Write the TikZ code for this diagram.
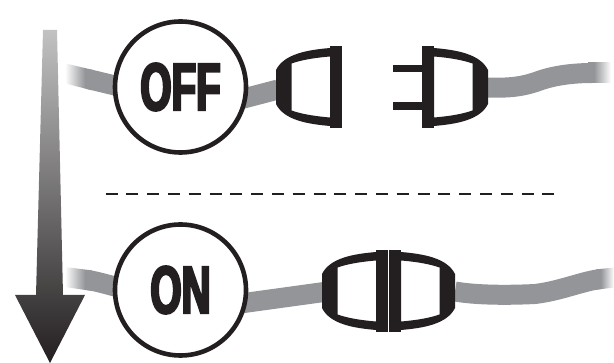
\documentclass[tikz,border=0pt]{standalone}
\usepackage{fontspec}
\newfontfamily\lab[FakeStretch=0.6,FakeBold=3.5]{Liberation Sans}
\usetikzlibrary{backgrounds}
\definecolor{ink}{HTML}{231F20}
\definecolor{cordgray}{HTML}{939598}
\pgfdeclarehorizontalshading{fadein}{100bp}{color(0bp)=(white); color(25bp)=(white); color(62bp)=(cordgray); color(100bp)=(cordgray)}
\pgfdeclarehorizontalshading{fadeout}{100bp}{color(0bp)=(cordgray); color(38bp)=(cordgray); color(75bp)=(white); color(100bp)=(white)}
\tikzset{
  x=1pt,y=-1pt,
  cord/.style={draw=cordgray,line width=20pt,line cap=butt},
  badge/.style={circle,draw=ink,line width=4.6pt,fill=white,minimum size=131pt,inner sep=0pt,text=ink,font=\lab\bfseries\fontsize{67}{67}\selectfont},
  sep/.style={draw=ink,line width=1.4pt,dash pattern=on 12pt off 8.8pt},
  halfplug/.pic={
    \fill[ink,even odd rule]
      (12,-39) .. controls (35,-37) and (58,-33) .. (66,-17) -- (66,17)
      .. controls (58,33) and (35,37) .. (12,39) -- cycle
      (12,-30.5) .. controls (30,-29) and (42,-26.5) .. (50.5,-23.5) -- (50.5,23.5)
      .. controls (42,26.5) and (30,29) .. (12,30.5) -- cycle;
    \fill[ink] (0,-41) rectangle (12,41);
  },
}
\begin{document}
\begin{tikzpicture}
\useasboundingbox (0,0) rectangle (614,363);
% badges
\node[badge] (off) at (180.5,87) {OFF};
\node[badge] (on) at (180.5,290) {ON};
% plugs
\coordinate (offA) at (342,87);
\coordinate (offB) at (422,87);
\coordinate (onA) at (388,291);
\coordinate (onB) at (389,291);
\pic[xscale=-1] at (offA) {halfplug};
\pic at (offB) {halfplug};
\pic[xscale=-1] at (onA) {halfplug};
\pic at (onB) {halfplug};
\fill[ink] (393,65) rectangle (423,72.5);
\fill[ink] (393,102) rectangle (423,110);
% cord anchors
\coordinate (c1) at (88,79);
\coordinate (c1b) at (150,94);
\coordinate (c2b) at (215,106);
\coordinate (c2) at (278,89.5);
\coordinate (c3) at (486,87.5);
\coordinate (c4) at (592,73);
\coordinate (c5) at (88,280);
\coordinate (c5b) at (150,296);
\coordinate (c6b) at (215,307);
\coordinate (c6) at (324,292);
\coordinate (c7) at (455,291.5);
\coordinate (c8) at (600,279);
\begin{pgfonlayer}{background}
  \shade[shading=fadein] (65,63.3) -- (92,69.7) -- (92,90.3) -- (65,83.4) -- cycle;
  \shade[shading=fadeout] (588,63) -- (611,63) -- (611,83) -- (588,83) -- cycle;
  \shade[shading=fadein] (65,267) -- (92,270.4) -- (92,291) -- (65,287) -- cycle;
  \shade[shading=fadeout] (596,269.4) -- (614,267.5) -- (614,287.5) -- (596,289.8) -- cycle;
  \draw[cord] (c1) -- (c1b);
  \draw[cord] (c2b) -- (c2);
  \draw[cord] (c3) .. controls (512,88.5) and (525,86) .. (540,80.5) .. controls (556,75) and (575,73) .. (c4);
  \draw[cord] (c5) .. controls (100,282) and (112,286) .. (c5b);
  \draw[cord] (c6b) -- (c6);
  \draw[cord] (c7) .. controls (475,295) and (505,295.5) .. (535,294) .. controls (560,291) and (580,282) .. (c8);
\end{pgfonlayer}
% arrow
\shade[top color=black!24,middle color=black!55,bottom color=ink]
  (43,30) -- (57,30) -- (63,295) -- (85,295) -- (50,363) -- (15,295) -- (36,295) -- cycle;
% separator
\coordinate (s1) at (105.5,194);
\coordinate (s2) at (556,194);
\draw[sep] (s1) -- (s2);
\end{tikzpicture}
\end{document}
